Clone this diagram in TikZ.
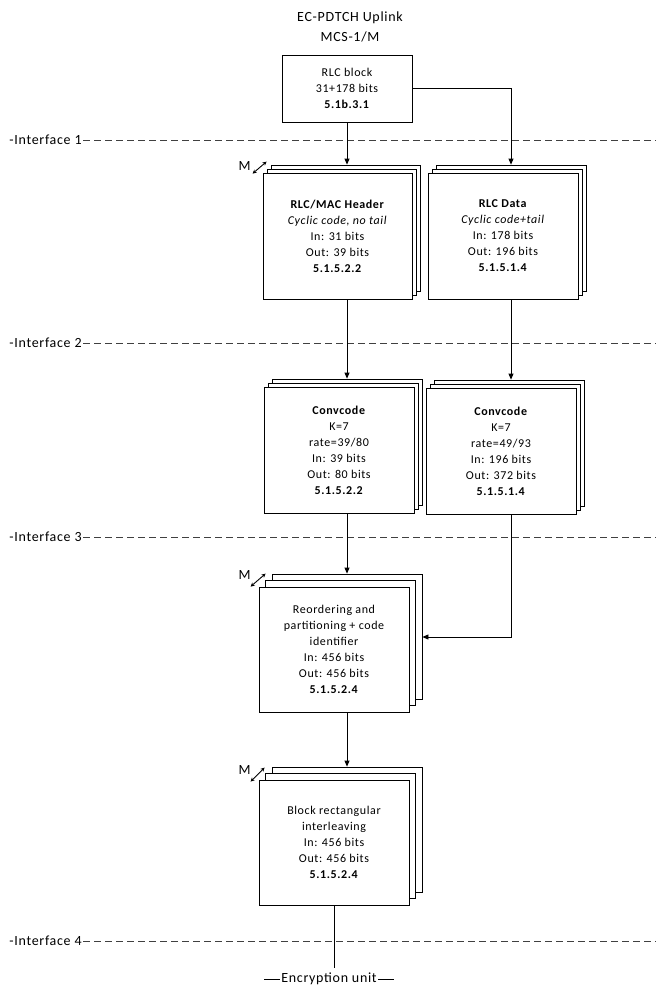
\documentclass[tikz,border=0pt]{standalone}
\usepackage{fontspec}
\setmainfont{Carlito}[LetterSpace=5]
\usetikzlibrary{shadows,arrows.meta,calc}
\begin{document}
\begin{tikzpicture}[x=1pt,y=-1pt,line width=0.8pt,
  box/.style={draw=black, fill=white, align=center, inner sep=0pt,
    font=\fontsize{12}{16}\selectfont, minimum width=150pt, minimum height=126pt},
  stackA/.style={copy shadow={shadow xshift=8pt,shadow yshift=8pt,fill=white,draw=black},
                 copy shadow={shadow xshift=4pt,shadow yshift=4pt,fill=white,draw=black}},
  stackB/.style={copy shadow={shadow xshift=13pt,shadow yshift=13pt,fill=white,draw=black},
                 copy shadow={shadow xshift=6.5pt,shadow yshift=6.5pt,fill=white,draw=black}},
  arr/.style={-{Triangle[length=6pt,width=5pt]}},
  iflabel/.style={anchor=west, inner sep=1pt, font=\fontsize{14}{16}\selectfont},
  ifline/.style={dash pattern=on 6.5pt off 4.5pt, draw=black!75},
  mlabel/.style={inner sep=0pt, font=\fontsize{14}{16}\selectfont},
  marr/.style={{Stealth[length=4pt,width=4pt]}-{Stealth[length=4pt,width=4pt]}, line width=0.9pt}
]
\useasboundingbox (0,0) rectangle (656,988);

% title
\node[align=center, font=\fontsize{14}{20}\selectfont] (title) at (350,27) {EC-PDTCH Uplink\\MCS-1/M};

% interfaces
\node[iflabel] (if1) at (8,140) {-Interface 1};
\node[iflabel] (if2) at (8,343) {-Interface 2};
\node[iflabel] (if3) at (8,537) {-Interface 3};
\node[iflabel] (if4) at (8,941) {-Interface 4};
\coordinate (if1e) at (656,140);
\coordinate (if2e) at (656,343);
\coordinate (if3e) at (656,537);
\coordinate (if4e) at (656,941);
\draw[ifline] (if1.east) -- (if1e);
\draw[ifline] (if2.east) -- (if2e);
\draw[ifline] (if3.east) -- (if3e);
\draw[ifline] (if4.east) -- (if4e);

% boxes
\node[box, minimum width=130pt, minimum height=67pt] (rlcblock) at (347,88.5)
  {RLC block\\31+178 bits\\\textbf{5.1b.3.1}};
\node[box, stackA, minimum width=149pt] (rlcmac) at (337.5,236)
  {\textbf{RLC/MAC Header}\\\textit{Cyclic code, no tail}\\In: 31 bits\\Out: 39 bits\\\textbf{5.1.5.2.2}};
\node[box, stackA] (rlcdata) at (503,236)
  {\textbf{RLC Data}\\\textit{Cyclic code+tail}\\In: 178 bits\\Out: 196 bits\\\textbf{5.1.5.1.4}};
\node[box, stackA] (conv1) at (339,450)
  {\textbf{Convcode}\\K=7\\rate=39/80\\In: 39 bits\\Out: 80 bits\\\textbf{5.1.5.2.2}};
\node[box, stackA] (conv2) at (501,451)
  {\textbf{Convcode}\\K=7\\rate=49/93\\In: 196 bits\\Out: 372 bits\\\textbf{5.1.5.1.4}};
\node[box, stackB, minimum height=125pt] (reorder) at (334,649.5)
  {Reordering and\\partitioning + code\\identifier\\In: 456 bits\\Out: 456 bits\\\textbf{5.1.5.2.4}};
\node[box, stackB, minimum height=125pt] (block) at (334,842.5)
  {Block rectangular\\interleaving\\In: 456 bits\\Out: 456 bits\\\textbf{5.1.5.2.4}};

% helper coordinates (tops of back copies)
\coordinate (rlcmacT) at ($(rlcmac.north)+(9.5,-8)$);
\coordinate (rlcdataT) at ($(rlcdata.north)+(8,-8)$);
\coordinate (conv1T) at ($(conv1.north)+(8,-8)$);
\coordinate (conv2T) at ($(conv2.north)+(10,-8)$);
\coordinate (reorderT) at ($(reorder.north)+(13,-13)$);
\coordinate (reorderR) at ($(reorder.east)+(13,-12.5)$);
\coordinate (blockT) at ($(block.north)+(13,-13)$);
\coordinate (encT) at (334,968);

% connectors
\draw[arr] (rlcblock.south) -- (rlcmacT);
\draw[arr] (rlcblock.east) -| (rlcdataT);
\draw[arr] (rlcmac.south -| conv1T) -- (conv1T);
\draw[arr] (rlcdata.south -| conv2T) -- (conv2T);
\draw[arr] (conv1.south -| reorderT) -- (reorderT);
\draw[arr] (conv2.south -| conv2T) |- (reorderR);
\draw[arr] (reorder.south -| blockT) -- (blockT);
\draw (block.south) -- (encT);

% encryption unit
\node[inner sep=1pt, font=\fontsize{14}{16}\selectfont] (enc) at (329,979) {Encryption unit};
\coordinate (encL) at ($(enc.west)+(-16,0)$);
\coordinate (encR) at ($(enc.east)+(16,0)$);
\draw (enc.west) -- (encL);
\draw (enc.east) -- (encR);

% M markers
\node[mlabel] (m1) at ($(rlcmac.north west)+(-18,-7)$) {M};
\coordinate (m1a) at ($(rlcmac.north west)+(-10,1)$);
\coordinate (m1b) at ($(rlcmac.north west)+(4,-11)$);
\draw[marr] (m1a) -- (m1b);
\node[mlabel] (m2) at ($(reorder.north west)+(-14,-12)$) {M};
\coordinate (m2a) at ($(reorder.north west)+(-8,0)$);
\coordinate (m2b) at ($(reorder.north west)+(7,-13)$);
\draw[marr] (m2a) -- (m2b);
\node[mlabel] (m3) at ($(block.north west)+(-14,-10)$) {M};
\coordinate (m3a) at ($(block.north west)+(-8,2)$);
\coordinate (m3b) at ($(block.north west)+(6,-12)$);
\draw[marr] (m3a) -- (m3b);
\end{tikzpicture}
\end{document}
